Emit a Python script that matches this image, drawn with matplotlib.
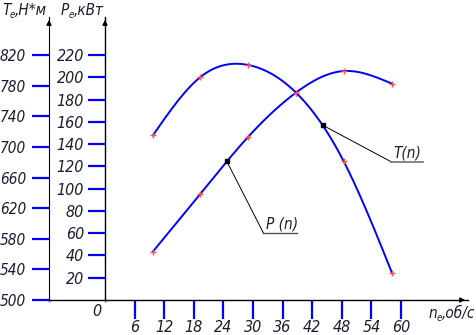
import numpy as np
import matplotlib
matplotlib.use("Agg")
import matplotlib.pyplot as plt

# --------------------------- Data ---------------------------
n_pts = [9.7, 19.3, 29.0, 38.7, 48.4, 58.2]          # об/с
T_pts = [715, 791, 807, 771, 681, 535]               # Н*м
P_pts = [43.4, 95.2, 146.4, 186.2, 205.6, 194.2]     # кВт

x_ticks = [6, 12, 18, 24, 30, 36, 42, 48, 54, 60]
P_ticks = [20, 40, 60, 80, 100, 120, 140, 160, 180, 200, 220]
T_ticks = [500, 540, 580, 620, 660, 700, 740, 780, 820]

n_T_mark = 44.1   # leader point on T(n)
n_P_mark = 24.7   # leader point on P(n)

# --------------------------- Setup ---------------------------
W, H = 477, 335
plt.rcParams["font.family"] = ["DejaVu Sans"]
plt.rcParams["font.style"] = "italic"
plt.rcParams["font.stretch"] = "condensed"
TXT = "#1c1c30"
BLUE = "#0000ff"
RED = "#ff5050"


def natural_spline(x, y, xs):
    """natural cubic spline through (x, y), evaluated at xs"""
    x = np.asarray(x, float)
    y = np.asarray(y, float)
    n = len(x)
    h = np.diff(x)
    A = np.zeros((n, n))
    b = np.zeros(n)
    A[0, 0] = A[-1, -1] = 1
    for i in range(1, n - 1):
        A[i, i - 1] = h[i - 1]
        A[i, i] = 2 * (h[i - 1] + h[i])
        A[i, i + 1] = h[i]
        b[i] = 6 * ((y[i + 1] - y[i]) / h[i] - (y[i] - y[i - 1]) / h[i - 1])
    M = np.linalg.solve(A, b)
    xs = np.asarray(xs, float)
    k = np.clip(np.searchsorted(x, xs) - 1, 0, n - 2)
    t0 = x[k + 1] - xs
    t1 = xs - x[k]
    hk = h[k]
    return (M[k] * t0 ** 3 / (6 * hk) + M[k + 1] * t1 ** 3 / (6 * hk)
            + (y[k] / hk - M[k] * hk / 6) * t0 + (y[k + 1] / hk - M[k + 1] * hk / 6) * t1)


fig = plt.figure(figsize=(W / 100, H / 100), dpi=100)
ax = fig.add_axes([0, 0, 1, 1])

# pixel scale of the drawing: x0=105px, 4.933 px per об/с ; y0=300px, 1.1136 px per кВт
px_n, px_P = 4.933, 1.1136
ax.set_xlim(-105 / px_n, (W - 105) / px_n)
ax.set_ylim((300 - H) / px_P, 300 / px_P)

# T axis shares the height: 500 at P=0, 820 at P=220
k_T = (T_ticks[-1] - T_ticks[0]) / P_ticks[-1]
ax2 = ax.twinx()
ax2.set_ylim(T_ticks[0] + ax.get_ylim()[0] * k_T, T_ticks[0] + ax.get_ylim()[1] * k_T)

n_Taxis = (49 - 105) / px_n
n_end = (468 - 105) / px_n
P_top = (300 - 17) / px_P

for s in ["top", "right"]:
    ax.spines[s].set_visible(False)
ax.spines["left"].set_position(("data", 0))
ax.spines["bottom"].set_position(("data", 0))
ax.spines["left"].set_bounds(0, P_top)
ax.spines["bottom"].set_bounds(n_Taxis, n_end)
for s in ax.spines.values():
    s.set_linewidth(1.0)
    s.set_color("black")

for s in ["top", "right", "bottom"]:
    ax2.spines[s].set_visible(False)
ax2.spines["left"].set_visible(True)
ax2.spines["left"].set_position(("data", n_Taxis))
ax2.spines["left"].set_bounds(T_ticks[0], T_ticks[0] + P_top * k_T)
ax2.spines["left"].set_color("black")
ax2.yaxis.set_ticks_position("left")

ax.set_xticks(x_ticks)
ax.set_yticks(P_ticks)
ax2.set_yticks(T_ticks)
ax.tick_params(axis="x", direction="out", length=14, width=1.6, color=BLUE,
               labelsize=11.5, labelcolor=TXT, pad=0.5)
ax.tick_params(axis="y", direction="out", length=12, width=1.6, color=BLUE,
               labelsize=11.5, labelcolor=TXT, pad=3)
ax2.tick_params(axis="y", direction="out", length=12, width=1.6, color=BLUE,
                labelsize=11, labelcolor=TXT, pad=4.5)

# arrows on axes
arr = dict(arrowstyle="-|>", color="black", lw=1.0, mutation_scale=7)
ax.annotate("", xy=(0, P_top), xytext=(0, P_top - 8), arrowprops=arr)
ax.annotate("", xy=(n_Taxis, P_top), xytext=(n_Taxis, P_top - 8), arrowprops=arr)
ax.annotate("", xy=(n_end, 0), xytext=(n_end - 2, 0), arrowprops=arr)
ax.plot([n_Taxis, 0], [0, 0], ls="none", marker="+", ms=3, color=RED, clip_on=False)
ax.text(-1.6, -10, "0", fontsize=11.5, color=TXT, ha="center", va="center")

# curves
ns = np.linspace(n_pts[0], n_pts[-1], 200)
ax2.plot(ns, natural_spline(n_pts, T_pts, ns), color=BLUE, lw=1.4)
ax.plot(ns, natural_spline(n_pts, P_pts, ns), color=BLUE, lw=1.4)
ax2.plot(n_pts, T_pts, ls="none", marker="+", ms=4, mew=1.0, color=RED)
ax.plot(n_pts, P_pts, ls="none", marker="+", ms=4, mew=1.0, color=RED)

# leaders
T_mark = natural_spline(n_pts, T_pts, [n_T_mark])[0]
P_mark = natural_spline(n_pts, P_pts, [n_P_mark])[0]
ax2.plot(n_T_mark, T_mark, marker="s", ms=3, color="black")
ax.plot(n_P_mark, P_mark, marker="s", ms=3, color="black")
T_mark_P = (T_mark - T_ticks[0]) / k_T
ax.plot([n_T_mark, 57.98], [T_mark_P, 124.2], color="black", lw=0.7)
ax.plot([57.98, 64.4], [124.2, 124.2], color="#707070", lw=1.2)
ax.text(61.2, 125.5, "T(n)", fontsize=11, color=TXT, ha="center", va="bottom")
ax.plot([n_P_mark, 32.09], [P_mark, 60.4], color="black", lw=0.7)
ax.plot([32.09, 38.96], [60.4, 60.4], color="#505050", lw=1.0)
ax.text(35.9, 61.5, "P (n)", fontsize=11, color=TXT, ha="center", va="bottom")


# axis titles (placed in pixels)
def ptext(x, y, s, size=11, **kw):
    fig.text(x / W, 1 - y / H, s, fontsize=size, color=TXT, va="baseline", **kw)


ptext(2, 15, "T")
ptext(10, 18, "e", size=7)
ptext(15, 15, ",Н*м")
ptext(61, 15, "P")
ptext(69, 18, "e", size=7)
ptext(74, 15, ",кВт")
ptext(429, 318, "n")
ptext(437, 321, "e", size=7)
ptext(442, 318, ",об/с")

fig.savefig("out.png", dpi=100)
